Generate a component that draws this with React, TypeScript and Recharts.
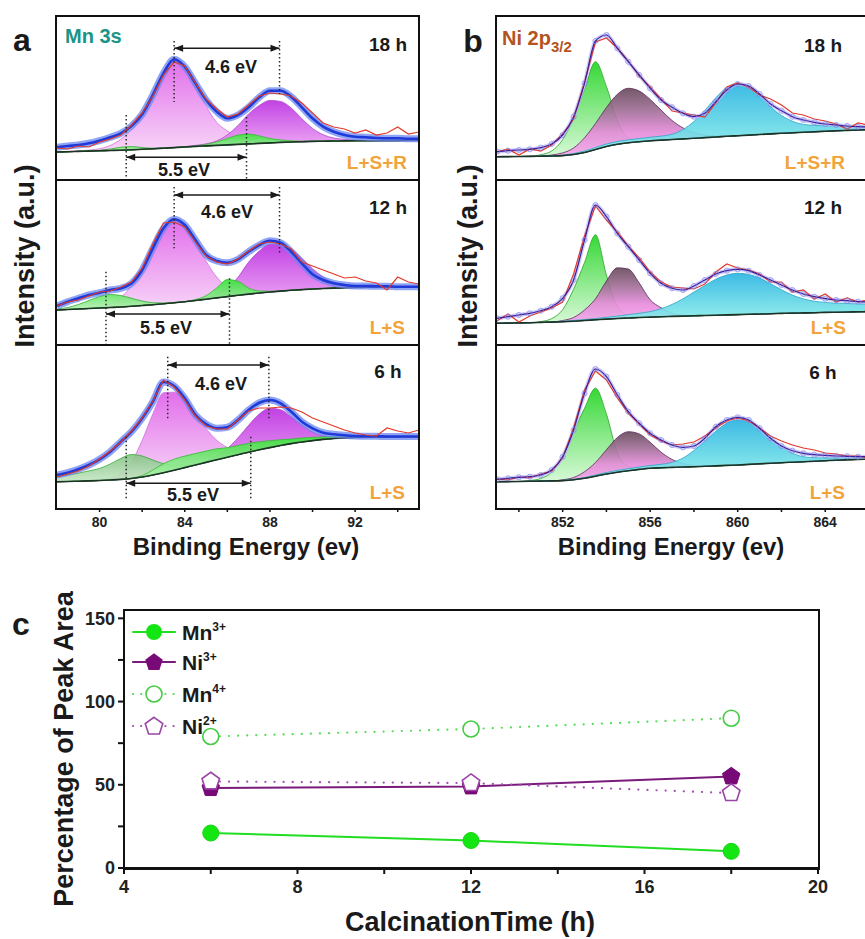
import React from 'react';
import { ComposedChart, LineChart, Area, Line, XAxis, YAxis, ReferenceLine, ReferenceDot } from 'recharts';

const FONT = '"Liberation Sans", Arial, Helvetica, sans-serif';

// ---------- Panel a: Mn 3s (binding energy grid, eV) ----------
const mnEnergy = [78, 78.5, 79, 79.5, 80, 80.5, 81, 81.5, 82, 82.5, 83, 83.5, 84, 84.5, 85, 85.5, 86, 86.5, 87, 87.5, 88, 88.5, 89, 89.5, 90, 90.5, 91, 91.5, 92, 92.5, 93, 93.5, 94, 94.5, 95];
const mnTicks = [80, 82, 84, 86, 88, 90, 92, 94];

// 18 h
const mn18Bg = [27, 27.3, 27.6, 27.9, 28.2, 28.5, 28.8, 29.2, 29.7, 30.2, 30.8, 31.4, 32, 32.6, 33.1, 33.6, 34.1, 34.6, 35.1, 35.6, 36.1, 36.6, 37, 37.3, 37.6, 37.8, 38, 38.1, 38.2, 38.3, 38.3, 38.4, 38.4, 38.5, 38.5];
const mn18Peak1 = [0.2, 0.3, 0.5, 1, 2, 5, 11, 20, 33, 54, 76, 88, 81, 62, 40, 23, 14, 7, 3.5, 1.8, 1, 0.5, 0.3, 0.2, 0.1, 0, 0, 0, 0, 0, 0, 0, 0, 0, 0];
const mn18Peak2 = [0, 0, 0, 0, 0, 0, 0, 0, 0, 0, 0, 0.2, 0.4, 1, 2, 4.5, 10, 19, 30, 38, 42.5, 41, 34, 23, 13, 6.5, 3, 1.5, 0.7, 0.3, 0.1, 0, 0, 0, 0];
const mn18Sat1 = [0, 0, 0, 0, 0.5, 1.5, 3, 3.2, 1.8, 0.6, 0.2, 0, 0, 0, 0, 0, 0, 0, 0, 0, 0, 0, 0, 0, 0, 0, 0, 0, 0, 0, 0, 0, 0, 0, 0];
const mn18Sat2 = [0, 0, 0, 0, 0, 0, 0, 0, 0, 0, 0, 0, 0, 0.5, 1.5, 3.5, 6.5, 9.3, 9.8, 7.5, 4.5, 2.5, 1.2, 0.5, 0.2, 0, 0, 0, 0, 0, 0, 0, 0, 0, 0];
const mn18Fit = [31.7, 33, 34, 35.7, 38.3, 41.7, 45.7, 53, 64.7, 84, 105.7, 119.7, 112.3, 95.7, 79, 67.3, 60.7, 64, 71.7, 81.7, 88.3, 88.3, 82.3, 71.7, 60.7, 52.3, 47.3, 44, 42.3, 41.7, 41, 40.7, 40.7, 40.3, 40.3];
const mn18Raw = [31, 30, 33, 32, 37, 40, 44, 54, 66, 83, 104, 117, 113, 96, 80, 70, 62, 65, 74, 83, 86, 85, 83, 76, 66, 56, 52, 50, 46, 49, 44, 46, 52, 45, 47];

// 12 h
const mn12Bg = [34, 34.5, 35, 35.5, 36, 36.5, 37, 37.7, 38.5, 39.3, 40.2, 41.2, 42.3, 43.5, 44.8, 46.1, 47.4, 48.7, 49.9, 51, 52, 52.9, 53.7, 54.4, 55, 55.5, 55.9, 56.2, 56.5, 56.7, 56.9, 57, 57.1, 57.2, 57.3];
const mn12Peak1 = [0, 0, 0.1, 0.4, 1.2, 3.7, 9.5, 20.8, 38, 54, 76, 83, 76, 58.7, 38, 20.8, 9.5, 3.7, 1.2, 0.4, 0.1, 0, 0, 0, 0, 0, 0, 0, 0, 0, 0, 0, 0, 0, 0];
const mn12Peak2 = [0, 0, 0, 0, 0, 0, 0, 0, 0, 0, 0, 0, 0, 0.4, 1.2, 3.5, 8.5, 18, 32, 42, 47.8, 47, 41.5, 31.4, 20.3, 11.6, 5.3, 2.4, 1, 0.4, 0, 0, 0, 0, 0];
const mn12Sat1 = [1, 2, 4.5, 8, 11.5, 13, 11.5, 8, 4.5, 2, 0.8, 0.3, 0, 0, 0, 0, 0, 0, 0, 0, 0, 0, 0, 0, 0, 0, 0, 0, 0, 0, 0, 0, 0, 0, 0];
const mn12Sat2 = [0, 0, 0, 0, 0, 0, 0, 0, 0, 0, 0, 0, 0, 1, 3.5, 10, 17, 14, 6, 2, 0.7, 0.2, 0, 0, 0, 0, 0, 0, 0, 0, 0, 0, 0, 0, 0];
const mn12Fit = [38, 42.3, 45.7, 49, 51.3, 54, 55.7, 60.7, 74, 95.7, 115.7, 124.7, 119, 104, 89, 83, 81.3, 84.7, 92.3, 99, 103.3, 101.3, 92.3, 80.7, 69.7, 64, 60.7, 59, 58, 58, 57.7, 57.7, 57.3, 57.3, 57.3];
const mn12Raw = [38, 42, 44, 48, 52, 53, 57, 62, 76, 100, 121, 122, 117, 102, 88, 82, 80, 85, 93, 100, 102, 100, 95, 82, 78, 74, 70, 66, 67, 63, 61, 54, 67, 62, 60];

// 6 h
const mn6Bg = [26.3, 26.5, 26.8, 27.1, 27.5, 28, 28.6, 29.5, 31, 33, 35.3, 37.8, 40.4, 43, 45.6, 48.2, 50.8, 53.3, 55.8, 58.2, 60.4, 62.5, 64.4, 66, 67.4, 68.6, 69.5, 70.1, 70.5, 70.8, 71, 71.1, 71.2, 71.3, 71.3];
const mn6Peak1 = [0, 0, 0, 0, 0, 1.6, 5.7, 16.3, 36.7, 61, 80, 78, 67.6, 52, 34, 19.6, 9.8, 4, 1.6, 0.5, 0, 0, 0, 0, 0, 0, 0, 0, 0, 0, 0, 0, 0, 0, 0];
const mn6Peak2 = [0, 0, 0, 0, 0, 0, 0, 0, 0, 0, 0, 0, 0, 0.4, 1.3, 3.7, 8.6, 16.9, 26.9, 35.8, 39.3, 35.8, 26.9, 16.9, 8.6, 3.7, 1.3, 0.4, 0, 0, 0, 0, 0, 0, 0];
const mn6Sat1 = [5, 6.5, 8, 10, 12, 16, 21, 24, 21, 15, 9, 5, 2.5, 1, 0.4, 0.1, 0, 0, 0, 0, 0, 0, 0, 0, 0, 0, 0, 0, 0, 0, 0, 0, 0, 0, 0];
const mn6Sat2 = [0, 0, 0, 0, 0, 0, 0, 0.4, 1.5, 5, 9, 11, 11.5, 11.5, 11.3, 11, 9.5, 9.2, 8.9, 8, 6.9, 5.8, 4.6, 4, 3.3, 2.5, 1.8, 1.2, 0.8, 0.5, 0.3, 0.2, 0, 0, 0];
const mn6Fit = [33, 35.3, 38.7, 43, 48.7, 56.3, 66.3, 76.3, 89.7, 106.3, 126, 122, 109.7, 93, 84, 79.7, 80.7, 88, 98, 105.3, 108, 104.7, 96.3, 86.3, 79.7, 75.3, 73.7, 72.7, 72, 71.7, 71.7, 71.5, 71.5, 71.5, 71.5];
const mn6Raw = [31, 34, 37, 42, 49, 57, 66, 77, 90, 107, 128, 121, 108, 92, 82, 79, 79, 88, 97, 100, 100, 101, 100, 96, 90, 86, 82, 78, 75, 73, 72, 80, 77, 75, 78];

// ---------- Panel b: Ni 2p3/2 ----------
const niEnergy = [849, 849.5, 850, 850.5, 851, 851.5, 852, 852.5, 853, 853.5, 854, 854.5, 855, 855.5, 856, 856.5, 857, 857.5, 858, 858.5, 859, 859.5, 860, 860.5, 861, 861.5, 862, 862.5, 863, 863.5, 864, 864.5, 865, 865.5, 866];
const niTicks = [850, 852, 854, 856, 858, 860, 862, 864, 866];

const ni18Bg = [22.3, 22.4, 22.5, 22.6, 22.8, 23, 23.4, 24.5, 26.5, 29.5, 32.5, 34.7, 36.2, 37.3, 38.2, 38.9, 39.5, 40.1, 40.7, 41.4, 42, 42.7, 43.3, 43.9, 44.5, 45.1, 45.7, 46.2, 46.7, 47.2, 47.7, 48.2, 48.6, 49, 49.4];
const ni18Ni2 = [0, 0, 0, 0, 1.5, 5, 16, 36, 63, 87.8, 60, 24, 5, 1, 0, 0, 0, 0, 0, 0, 0, 0, 0, 0, 0, 0, 0, 0, 0, 0, 0, 0, 0, 0, 0];
const ni18Ni3 = [0, 0, 0, 0, 0, 1, 2.7, 6.5, 14.7, 26, 39, 50, 54.5, 50.7, 41.4, 30, 19, 11, 5.5, 2.5, 1, 0.4, 0, 0, 0, 0, 0, 0, 0, 0, 0, 0, 0, 0, 0];
const ni18Sat = [0, 0, 0, 0, 0, 0, 0.5, 1, 1.5, 2, 2.5, 2.8, 3, 3.2, 3.5, 4, 5.2, 9.4, 16.8, 27.2, 39.3, 48.7, 52.4, 48.7, 39.3, 27.2, 17.8, 11.5, 7.9, 6.5, 5.5, 4.5, 3.8, 3.2, 3];
const ni18Fit = [27.3, 28.3, 29, 29.7, 31.3, 35, 44, 62.3, 95.7, 138, 144, 130.7, 117.3, 104, 90.7, 79, 71.7, 65.7, 62.3, 65.7, 77.3, 89, 95, 93, 85, 75, 68.3, 62.3, 59, 56.7, 55, 54, 53, 52.3, 52];
const ni18Raw = [27, 30, 24, 30, 28, 34, 45, 60, 97, 137, 141, 131, 118, 103, 92, 80, 68, 66, 64, 62, 76, 92, 96, 92, 84, 80, 74, 66, 64, 60, 58, 55, 50, 56, 54];

const ni12Bg = [20.7, 20.9, 21.1, 21.3, 21.6, 21.9, 22.3, 22.8, 23.5, 24.2, 24.9, 25.5, 26, 26.5, 26.9, 27.3, 27.6, 27.9, 28.2, 28.5, 28.8, 29.1, 29.4, 29.7, 30, 30.3, 30.6, 30.9, 31.1, 31.3, 31.6, 31.8, 32, 32.2, 32.4];
const ni12Ni2 = [0, 0, 0, 0, 0.8, 3.5, 12, 32, 58, 85, 44, 12, 2.5, 0.5, 0, 0, 0, 0, 0, 0, 0, 0, 0, 0, 0, 0, 0, 0, 0, 0, 0, 0, 0, 0, 0];
const ni12Ni3 = [0, 0, 0, 0, 0, 0, 1.2, 3.7, 10.5, 21, 38, 50.7, 49, 34.5, 17.3, 8.9, 3.1, 1, 0.3, 0, 0, 0, 0, 0, 0, 0, 0, 0, 0, 0, 0, 0, 0, 0, 0];
const ni12Sat = [0, 0, 0, 0, 0, 0, 0.5, 0.8, 1, 1.3, 1.8, 2.4, 3.3, 4.2, 5.5, 8, 12, 17.3, 23.7, 30, 36, 39.9, 41.3, 39.9, 36, 30, 23.7, 18, 14, 11.5, 10, 9, 8.5, 8, 7.5];
const ni12Fit = [25.7, 27.3, 29, 30.7, 33.3, 37.3, 45.7, 64, 104, 139, 127.3, 110.7, 97.3, 84, 70.7, 60.7, 55.7, 54, 58, 64, 70, 73.3, 74.7, 73.3, 69, 64, 59, 54, 50, 47.3, 45.3, 44, 43.3, 42.3, 42];
const ni12Raw = [23, 30, 22, 28, 32, 36, 42, 70, 108, 138, 124, 112, 98, 86, 72, 62, 57, 56, 55, 60, 72, 80, 76, 74, 70, 62, 62, 52, 54, 45, 50, 42, 46, 42, 44];

const ni6Bg = [26.3, 26.4, 26.5, 26.7, 26.9, 27.1, 27.4, 28.2, 29.7, 31.8, 34, 35.8, 37.3, 38.6, 39.7, 40.2, 40.6, 41, 41.3, 41.7, 42.1, 42.6, 43, 43.6, 44.2, 44.8, 45.3, 45.8, 46.3, 46.8, 47.3, 47.8, 48.2, 48.6, 49];
const ni6Ni2 = [0, 0, 0, 0.8, 2.6, 8.8, 24.6, 48, 70, 88, 60, 19.4, 4.4, 1, 0, 0, 0, 0, 0, 0, 0, 0, 0, 0, 0, 0, 0, 0, 0, 0, 0, 0, 0, 0, 0];
const ni6Ni3 = [0, 0, 0, 0, 0, 0, 0.8, 2.3, 6.6, 13.7, 24.2, 34.7, 39, 35.5, 26, 15.6, 8, 3.5, 1.3, 0.4, 0, 0, 0, 0, 0, 0, 0, 0, 0, 0, 0, 0, 0, 0, 0];
const ni6Sat = [0, 0, 0, 0, 0, 0, 0.3, 0.5, 0.8, 1.2, 1.5, 1.8, 2, 2.4, 2.8, 3.5, 5, 9, 16.2, 25.2, 34.7, 42.3, 45, 42.3, 34.7, 25.2, 16.2, 9, 5, 3.5, 2.8, 2.4, 2, 1.8, 1.5];
const ni6Fit = [28.7, 29.7, 30.7, 31.3, 33, 38, 51.3, 78, 114.7, 139, 131.3, 113, 96.3, 84.7, 74.7, 68, 63, 60.7, 62, 69.7, 81.3, 88, 90.7, 88, 79.7, 69.7, 62, 57.3, 54.7, 53.3, 52.7, 52, 51.7, 51.3, 51.3];
const ni6Raw = [29, 28, 31, 30, 34, 37, 50, 80, 118, 137, 128, 110, 95, 84, 73, 67, 63, 64, 66, 72, 80, 87, 90, 87, 80, 72, 67, 63, 60, 58, 55, 54, 52, 52, 50];

// ---------- Panel c ----------
const calcTime = [6, 12, 18];
const mn3Pct = [21, 16.5, 10];
const ni3Pct = [48, 49, 55];
const mn4Pct = [79, 83.5, 90];
const ni2Pct = [52, 51, 45];
const cXTicks = [4, 6, 8, 10, 12, 14, 16, 18, 20];
const cYTicks = [0, 25, 50, 75, 100, 125, 150];

// ---------- styles ----------
const mnStyle = (peak1, peak2, sat1, sat2, muted) => [
  { key: 'p1', values: peak1, stops: [['0%', '#e066ea', 0.95], ['100%', '#f7d0f7', 0.9]], stroke: '#d070dc' },
  { key: 'p2', values: peak2, stops: [['0%', '#be38e2', 0.95], ['100%', '#f0a8f5', 0.9]], stroke: '#b044cc' },
  { key: 'g1', values: sat1, stops: muted ? [['0%', '#5aae5a', 0.9], ['100%', '#c4e6c4', 0.9]] : [['0%', '#3ee23e', 0.95], ['100%', '#b8f0b8', 0.9]], stroke: '#33aa33' },
  { key: 'g2', values: sat2, stops: [['0%', '#3ee23e', 0.95], ['100%', '#b8f0b8', 0.9]], stroke: '#33b833' },
];
const niStyle = (ni2, ni3, sat) => [
  { key: 'ng', values: ni2, stops: [['0%', '#2bd62b', 0.95], ['100%', '#d4f8d4', 0.92]], stroke: '#2a9f2a' },
  { key: 'nm', values: ni3, stops: [['0%', '#684a5c', 0.92], ['30%', '#9a6a90', 0.9], ['65%', '#e68ada', 0.9], ['100%', '#f7a6ee', 0.9]], stroke: '#5a2a5a' },
  { key: 'nc', values: sat, stops: [['0%', '#2cb4e2', 0.92], ['100%', '#8ff2ea', 0.9]], stroke: '#2aa4c4' },
];

const rows = [
  { id: 'a18', left: 57, top: 15, width: 362, height: 164, energy: mnEnergy, domain: [78, 95], ticks: mnTicks, axis: false, kind: 'mn',
    bg: mn18Bg, fit: mn18Fit, raw: mn18Raw, comps: mnStyle(mn18Peak1, mn18Peak2, mn18Sat1, mn18Sat2, false),
    vlines: [[83.5, 138, 77], [88.45, 138, 85], [81.25, 64, 0], [86.9, 62, 0]], arrows: [[83.5, 88.45, 130.7], [81.25, 86.9, 21.7]] },
  { id: 'a12', left: 57, top: 179, width: 362, height: 165, energy: mnEnergy, domain: [78, 95], ticks: mnTicks, axis: false, kind: 'mn',
    bg: mn12Bg, fit: mn12Fit, raw: mn12Raw, comps: mnStyle(mn12Peak1, mn12Peak2, mn12Sat1, mn12Sat2, false),
    vlines: [[83.5, 157, 95.7], [88.45, 157, 89], [80.3, 72.3, 0], [86.1, 65.7, 0]], arrows: [[83.5, 88.45, 149], [80.3, 86.1, 30]] },
  { id: 'a6', left: 57, top: 344, width: 362, height: 164, energy: mnEnergy, domain: [78, 95], ticks: mnTicks, axis: true, kind: 'mn',
    bg: mn6Bg, fit: mn6Fit, raw: mn6Raw, comps: mnStyle(mn6Peak1, mn6Peak2, mn6Sat1, mn6Sat2, true),
    vlines: [[83.2, 151.3, 89.7], [87.95, 151.3, 89.7], [81.25, 71.3, 9.7], [87.1, 71.3, 9.7]], arrows: [[83.2, 87.95, 143], [81.25, 87.1, 24.7]] },
  { id: 'b18', left: 497, top: 15, width: 372, height: 164, energy: niEnergy, domain: [849, 866], ticks: niTicks, axis: false, kind: 'ni',
    bg: ni18Bg, fit: ni18Fit, raw: ni18Raw, comps: niStyle(ni18Ni2, ni18Ni3, ni18Sat), vlines: [], arrows: [] },
  { id: 'b12', left: 497, top: 179, width: 372, height: 165, energy: niEnergy, domain: [849, 866], ticks: niTicks, axis: false, kind: 'ni',
    bg: ni12Bg, fit: ni12Fit, raw: ni12Raw, comps: niStyle(ni12Ni2, ni12Ni3, ni12Sat), vlines: [], arrows: [] },
  { id: 'b6', left: 497, top: 344, width: 372, height: 164, energy: niEnergy, domain: [849, 866], ticks: niTicks, axis: true, kind: 'ni',
    bg: ni6Bg, fit: ni6Fit, raw: ni6Raw, comps: niStyle(ni6Ni2, ni6Ni3, ni6Sat), vlines: [], arrows: [] },
];

const headLeft = (p: any) => (
  <polygon points={`${p.cx},${p.cy} ${p.cx + 9},${p.cy - 3.5} ${p.cx + 9},${p.cy + 3.5}`} fill="#1a1a1a" />
);
const headRight = (p: any) => (
  <polygon points={`${p.cx},${p.cy} ${p.cx - 9},${p.cy - 3.5} ${p.cx - 9},${p.cy + 3.5}`} fill="#1a1a1a" />
);

function SpectrumRow({ spec }: any) {
  const data = spec.energy.map((e: number, i: number) => {
    const r: any = { e, bg: spec.bg[i], fit: spec.fit[i], raw: spec.raw[i] };
    spec.comps.forEach((c: any) => {
      r[c.key] = [spec.bg[i], spec.bg[i] + c.values[i]];
    });
    return r;
  });
  const chartH = spec.height + (spec.axis ? 34 : 0);
  return (
    <div style={{ position: 'absolute', left: spec.left, top: spec.top }}>
      <ComposedChart width={spec.width} height={chartH} data={data} margin={{ top: 0, right: 0, bottom: 0, left: 0 }} style={{ fontFamily: FONT }}>
        <defs>
          {spec.comps.map((c: any) => (
            <linearGradient key={c.key} id={spec.id + c.key} x1="0" y1="0" x2="0" y2="1">
              {c.stops.map((s: any, k: number) => (
                <stop key={k} offset={s[0]} stopColor={s[1]} stopOpacity={s[2]} />
              ))}
            </linearGradient>
          ))}
        </defs>
        <XAxis
          dataKey="e"
          type="number"
          domain={spec.domain}
          allowDataOverflow
          hide={!spec.axis}
          ticks={spec.ticks}
          interval={0}
          tickFormatter={(v: number) => (v % 4 === 0 ? String(v) : '')}
          axisLine={false}
          tickLine={{ stroke: '#111', strokeWidth: 1.5 }}
          tickSize={4}
          tickMargin={5}
          height={34}
          tick={{ fill: '#222', fontSize: 14, fontWeight: 700, fontFamily: FONT }}
        />
        <YAxis hide type="number" domain={[0, spec.height]} allowDataOverflow />
        {spec.comps.map((c: any) => (
          <Area
            key={c.key}
            dataKey={c.key}
            type="monotone"
            stroke={c.stroke}
            strokeWidth={0.8}
            fill={`url(#${spec.id}${c.key})`}
            fillOpacity={1}
            dot={false}
            activeDot={false}
            isAnimationActive={false}
          />
        ))}
        <Line dataKey="bg" type="monotone" stroke="#1d3326" strokeWidth={1.6} dot={false} activeDot={false} isAnimationActive={false} />
        {spec.kind === 'mn' ? (
          <Line dataKey="fit" type="monotone" stroke="#6a86f2" strokeOpacity={0.75} strokeWidth={7} dot={false} activeDot={false} isAnimationActive={false} />
        ) : (
          <Line
            dataKey="fit"
            type="monotone"
            stroke="#b6b6f6"
            strokeOpacity={0.7}
            strokeWidth={4}
            dot={{ r: 2.6, stroke: '#8484ee', strokeWidth: 1, fill: 'none' }}
            activeDot={false}
            isAnimationActive={false}
          />
        )}
        {spec.kind === 'mn' ? (
          <Line dataKey="fit" type="monotone" stroke="#1f3ad8" strokeWidth={2.6} dot={false} activeDot={false} isAnimationActive={false} />
        ) : null}
        <Line dataKey="raw" type="linear" stroke="#e2392a" strokeWidth={1.2} dot={false} activeDot={false} isAnimationActive={false} />
        {spec.kind === 'ni' ? (
          <Line dataKey="fit" type="monotone" stroke="#3c1f98" strokeWidth={1.2} dot={false} activeDot={false} isAnimationActive={false} />
        ) : null}
        {spec.vlines.map((v: number[], i: number) => (
          <ReferenceLine
            key={'v' + i}
            segment={[{ x: v[0], y: v[1] }, { x: v[0], y: v[2] }]}
            stroke="#2a2a2a"
            strokeWidth={1.5}
            strokeDasharray="1.5 2.5"
            ifOverflow="visible"
          />
        ))}
        {spec.arrows.map((a: number[], i: number) => (
          <ReferenceLine
            key={'a' + i}
            segment={[{ x: a[0], y: a[2] }, { x: a[1], y: a[2] }]}
            stroke="#1a1a1a"
            strokeWidth={1.5}
            ifOverflow="visible"
          />
        ))}
        {spec.arrows.map((a: number[], i: number) => (
          <ReferenceDot key={'l' + i} x={a[0]} y={a[2]} r={2} shape={headLeft} ifOverflow="visible" />
        ))}
        {spec.arrows.map((a: number[], i: number) => (
          <ReferenceDot key={'r' + i} x={a[1]} y={a[2]} r={2} shape={headRight} ifOverflow="visible" />
        ))}
      </ComposedChart>
    </div>
  );
}

function Txt({ x, y, size, color = '#1a1a1a', anchor = 'middle', rotate = false, children }: any) {
  const tx = anchor === 'middle' ? '-50%' : anchor === 'end' ? '-100%' : '0%';
  return (
    <div
      style={{
        position: 'absolute',
        left: x,
        top: y,
        transform: `translate(${tx}, -50%)${rotate ? ' rotate(-90deg)' : ''}`,
        fontSize: size,
        fontWeight: 700,
        color,
        fontFamily: FONT,
        whiteSpace: 'nowrap',
        lineHeight: 1,
      }}
    >
      {children}
    </div>
  );
}

function pentagon(cx: number, cy: number, r: number) {
  const pts: string[] = [];
  for (let k = 0; k < 5; k++) {
    const a = -Math.PI / 2 + (k * 2 * Math.PI) / 5;
    pts.push(`${cx + r * Math.cos(a)},${cy + r * Math.sin(a)}`);
  }
  return pts.join(' ');
}

const markFilledCircle = (p: any) => <circle key={'fc' + p.index} cx={p.cx} cy={p.cy} r={8} fill="#14e614" stroke="#14d614" strokeWidth={1} />;
const markOpenCircle = (p: any) => <circle key={'oc' + p.index} cx={p.cx} cy={p.cy} r={8} fill="#ffffff" stroke="#44cc44" strokeWidth={1.6} />;
const markFilledPent = (p: any) => <polygon key={'fp' + p.index} points={pentagon(p.cx, p.cy, 9.2)} fill="#770a77" stroke="#770a77" strokeWidth={1} />;
const markOpenPent = (p: any) => <polygon key={'op' + p.index} points={pentagon(p.cx, p.cy, 9.2)} fill="#ffffff" stroke="#9a44a6" strokeWidth={1.6} />;

const legendItems = [
  { base: 'Mn', sup: '3+', color: '#22dd22', dotted: false, mark: 'fc' },
  { base: 'Ni', sup: '3+', color: '#7a1a7a', dotted: false, mark: 'fp' },
  { base: 'Mn', sup: '4+', color: '#55dd55', dotted: true, mark: 'oc' },
  { base: 'Ni', sup: '2+', color: '#a050b0', dotted: true, mark: 'op' },
];
const legendY = [632, 662, 694, 726];

function LegendMark({ mark }: any) {
  if (mark === 'fc') return <circle cx={24} cy={12} r={8} fill="#14e614" />;
  if (mark === 'oc') return <circle cx={24} cy={12} r={8} fill="#fff" stroke="#44cc44" strokeWidth={1.6} />;
  if (mark === 'fp') return <polygon points={pentagon(24, 12.5, 9.2)} fill="#770a77" />;
  return <polygon points={pentagon(24, 12.5, 9.2)} fill="#fff" stroke="#9a44a6" strokeWidth={1.6} />;
}

function PanelC() {
  const data = calcTime.map((t, i) => ({ t, mn3: mn3Pct[i], ni3: ni3Pct[i], mn4: mn4Pct[i], ni2: ni2Pct[i] }));
  return (
    <div style={{ position: 'absolute', left: 0, top: 590 }}>
      <LineChart width={865} height={349} data={data} margin={{ top: 20, right: 47, bottom: 0, left: 0 }} style={{ fontFamily: FONT }}>
        <XAxis
          dataKey="t"
          type="number"
          domain={[4, 20]}
          ticks={cXTicks}
          interval={0}
          allowDataOverflow
          tickFormatter={(v: number) => (v % 4 === 0 ? String(v) : '')}
          axisLine={{ stroke: '#111', strokeWidth: 2 }}
          tickLine={{ stroke: '#111', strokeWidth: 2 }}
          tickSize={6}
          tickMargin={6}
          height={71}
          tick={{ fill: '#222', fontSize: 18, fontWeight: 700, fontFamily: FONT }}
        />
        <YAxis
          type="number"
          domain={[0, 155]}
          ticks={cYTicks}
          interval={0}
          allowDataOverflow
          tickFormatter={(v: number) => (v % 50 === 0 ? String(v) : '')}
          axisLine={{ stroke: '#111', strokeWidth: 2 }}
          tickLine={{ stroke: '#111', strokeWidth: 2 }}
          tickSize={6}
          tickMargin={3}
          width={124}
          tick={{ fill: '#222', fontSize: 18, fontWeight: 700, fontFamily: FONT }}
        />
        <Line dataKey="mn3" type="linear" stroke="#22dd22" strokeWidth={2} dot={markFilledCircle} activeDot={false} isAnimationActive={false} />
        <Line dataKey="ni3" type="linear" stroke="#7a1a7a" strokeWidth={2} dot={markFilledPent} activeDot={false} isAnimationActive={false} />
        <Line dataKey="mn4" type="linear" stroke="#55dd55" strokeWidth={2.2} strokeDasharray="0.1 9" strokeLinecap="round" dot={markOpenCircle} activeDot={false} isAnimationActive={false} />
        <Line dataKey="ni2" type="linear" stroke="#a050b0" strokeWidth={2.2} strokeDasharray="0.1 9" strokeLinecap="round" dot={markOpenPent} activeDot={false} isAnimationActive={false} />
      </LineChart>
    </div>
  );
}

export default function App() {
  const frameA = [[15, 166], [179, 167], [344, 166]];
  return (
    <div style={{ position: 'absolute', left: 0, top: 0, width: 865, height: 939, overflow: 'hidden', background: '#fff', fontFamily: FONT }}>
      {rows.map((r) => (
        <SpectrumRow key={r.id} spec={r} />
      ))}
      {frameA.map((f, i) => (
        <div key={'fa' + i} style={{ position: 'absolute', left: 55, top: f[0], width: 365, height: f[1], border: '2px solid #111', boxSizing: 'border-box' }} />
      ))}
      {frameA.map((f, i) => (
        <div key={'fb' + i} style={{ position: 'absolute', left: 495, top: f[0], width: 380, height: f[1], border: '2px solid #111', boxSizing: 'border-box' }} />
      ))}
      <div style={{ position: 'absolute', left: 123, top: 609, width: 697, height: 261, border: '2px solid #111', boxSizing: 'border-box' }} />
      <PanelC />

      {/* panel letters */}
      <Txt x={22} y={40} size={32}>a</Txt>
      <Txt x={473} y={41} size={32}>b</Txt>
      <Txt x={21} y={624} size={32}>c</Txt>

      {/* panel a labels */}
      <Txt x={65} y={36} size={20} color="#1a9485" anchor="start">Mn 3s</Txt>
      <Txt x={388} y={44} size={19}>18 h</Txt>
      <Txt x={388} y={207} size={19}>12 h</Txt>
      <Txt x={388} y={371} size={19}>6 h</Txt>
      <Txt x={407} y={162} size={19} color="#f2a33a" anchor="end">L+S+R</Txt>
      <Txt x={405} y={327} size={19} color="#f2a33a" anchor="end">L+S</Txt>
      <Txt x={405} y={492} size={19} color="#f2a33a" anchor="end">L+S</Txt>
      <Txt x={231} y={67} size={18}>4.6 eV</Txt>
      <Txt x={184} y={170} size={18}>5.5 eV</Txt>
      <Txt x={227} y={212} size={18}>4.6 eV</Txt>
      <Txt x={166} y={328} size={18}>5.5 eV</Txt>
      <Txt x={221} y={384} size={18}>4.6 eV</Txt>
      <Txt x={193} y={495} size={18}>5.5 eV</Txt>

      {/* panel b labels */}
      <Txt x={502} y={38} size={20} color="#b3541e" anchor="start">
        Ni 2p<span style={{ fontSize: 15, position: 'relative', top: 7 }}>3/2</span>
      </Txt>
      <Txt x={823} y={45} size={19}>18 h</Txt>
      <Txt x={823} y={207} size={19}>12 h</Txt>
      <Txt x={823} y={372} size={19}>6 h</Txt>
      <Txt x={845} y={162} size={19} color="#f2a33a" anchor="end">L+S+R</Txt>
      <Txt x={846} y={327} size={19} color="#f2a33a" anchor="end">L+S</Txt>
      <Txt x={845} y={492} size={19} color="#f2a33a" anchor="end">L+S</Txt>

      {/* axis titles */}
      <Txt x={25} y={256} size={27} rotate>Intensity (a.u.)</Txt>
      <Txt x={468} y={256} size={27} rotate>Intensity (a.u.)</Txt>
      <Txt x={246} y={547} size={24}>Binding Energy (ev)</Txt>
      <Txt x={671} y={547} size={24}>Binding Energy (ev)</Txt>
      <Txt x={64} y={749} size={27} rotate>Percentage of Peak Area</Txt>
      <Txt x={470} y={922} size={27}>CalcinationTime (h)</Txt>

      {/* legend for panel c */}
      {legendItems.map((it, i) => (
        <div key={'lg' + i} style={{ position: 'absolute', left: 130, top: legendY[i] - 12, height: 24, display: 'flex', alignItems: 'center' }}>
          <svg width={48} height={24}>
            <line x1={3} y1={12} x2={45} y2={12} stroke={it.color} strokeWidth={2.2} strokeDasharray={it.dotted ? '0.1 8' : undefined} strokeLinecap="round" />
            <LegendMark mark={it.mark} />
          </svg>
          <span style={{ marginLeft: 4, fontSize: 21, fontWeight: 700, color: '#1a1a1a', fontFamily: FONT, lineHeight: 1 }}>
            {it.base}
            <span style={{ fontSize: 12, position: 'relative', top: -9 }}>{it.sup}</span>
          </span>
        </div>
      ))}
    </div>
  );
}
